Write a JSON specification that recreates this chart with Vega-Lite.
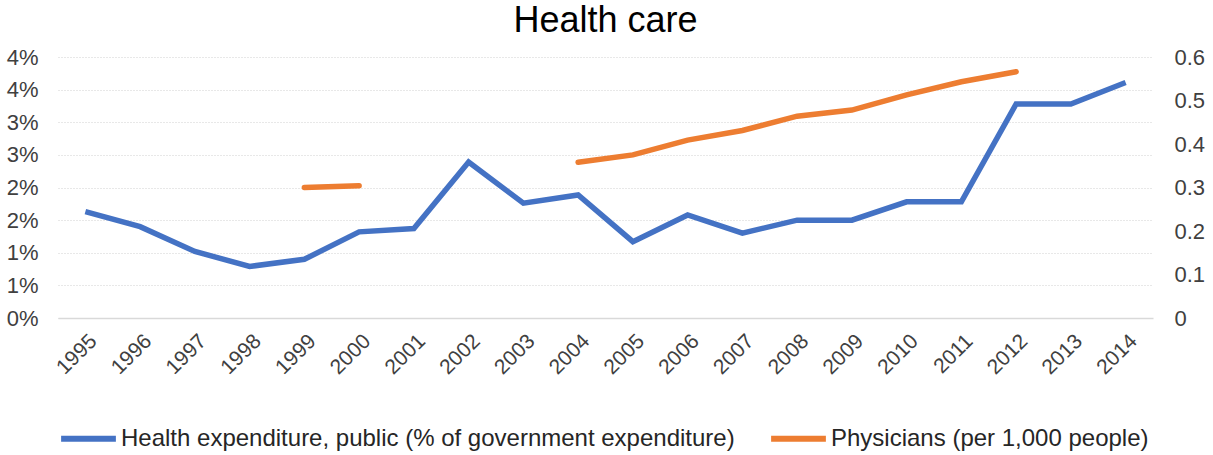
{
  "$schema": "https://vega.github.io/schema/vega-lite/v6.json",
  "autosize": {"type": "none"},
  "padding": {"left": 58, "top": 57, "right": 60, "bottom": 137},
  "width": 1095,
  "height": 261,
  "background": "white",
  "title": {"text": "Health care", "fontSize": 36, "font": "Liberation Sans", "fontWeight": "normal", "color": "#000000", "offset": 6, "anchor": "middle"},
  "config": {
    "view": {"stroke": null},
    "font": "Liberation Sans",
    "axis": {"labelFont": "Liberation Sans", "labelColor": "#404040", "titleColor": "#404040"},
    "legend": {"labelFont": "Liberation Sans"}
  },
  "data": {
    "values": [
      {"year": "1995", "health": 1.63, "physicians": null},
      {"year": "1996", "health": 1.40, "physicians": null},
      {"year": "1997", "health": 1.02, "physicians": null},
      {"year": "1998", "health": 0.79, "physicians": null},
      {"year": "1999", "health": 0.90, "physicians": 0.300},
      {"year": "2000", "health": 1.32, "physicians": 0.304},
      {"year": "2001", "health": 1.37, "physicians": null},
      {"year": "2002", "health": 2.39, "physicians": null},
      {"year": "2003", "health": 1.76, "physicians": null},
      {"year": "2004", "health": 1.885, "physicians": 0.358},
      {"year": "2005", "health": 1.17, "physicians": 0.375},
      {"year": "2006", "health": 1.58, "physicians": 0.409},
      {"year": "2007", "health": 1.30, "physicians": 0.431},
      {"year": "2008", "health": 1.50, "physicians": 0.464},
      {"year": "2009", "health": 1.50, "physicians": 0.478},
      {"year": "2010", "health": 1.78, "physicians": 0.513},
      {"year": "2011", "health": 1.78, "physicians": 0.543},
      {"year": "2012", "health": 3.28, "physicians": 0.566},
      {"year": "2013", "health": 3.28, "physicians": null},
      {"year": "2014", "health": 3.61, "physicians": null}
    ]
  },
  "encoding": {
    "x": {
      "field": "year", "type": "ordinal",
      "scale": {"type": "point", "padding": 0.5},
      "axis": {"title": null, "labelAngle": -45, "labelFontSize": 21, "ticks": false, "domainColor": "#D9D9D9", "domainWidth": 1.5, "labelPadding": 12, "grid": false}
    }
  },
  "layer": [
    {
      "mark": {"type": "line", "strokeWidth": 5.5, "strokeJoin": "miter", "strokeCap": "butt"},
      "encoding": {
        "y": {
          "field": "health", "type": "quantitative",
          "scale": {"domain": [0, 4], "nice": false},
          "axis": {"title": null, "values": [0, 0.5, 1, 1.5, 2, 2.5, 3, 3.5, 4], "labelExpr": "format(datum.value, '.0f') + '%'", "labelFontSize": 22, "ticks": false, "domain": false, "labelPadding": 20, "grid": true, "gridColor": "#D0D0D0", "gridDash": [1, 2], "gridWidth": 1}
        },
        "color": {
          "datum": "Health expenditure, public (% of government expenditure)", "type": "nominal",
          "scale": {"domain": ["Health expenditure, public (% of government expenditure)", "Physicians (per 1,000 people)"], "range": ["#4472C4", "#ED7D31"]},
          "legend": {"title": null, "orient": "bottom", "direction": "horizontal", "symbolType": "stroke", "symbolStrokeWidth": 6, "symbolSize": 3000, "labelFontSize": 24, "labelColor": "#262626", "labelOffset": 2, "columnPadding": 24, "labelLimit": 900, "offset": 30}
        }
      }
    },
    {
      "mark": {"type": "line", "strokeWidth": 5.5, "strokeCap": "round", "invalid": "break-paths-show-domains"},
      "encoding": {
        "y": {
          "field": "physicians", "type": "quantitative",
          "scale": {"domain": [0, 0.6], "nice": false},
          "axis": {"title": null, "orient": "right", "values": [0, 0.1, 0.2, 0.3, 0.4, 0.5, 0.6], "format": "~g", "labelFontSize": 22, "ticks": false, "domain": false, "labelPadding": 21, "grid": false}
        },
        "color": {"datum": "Physicians (per 1,000 people)", "type": "nominal"}
      }
    }
  ],
  "resolve": {"scale": {"y": "independent"}}
}
